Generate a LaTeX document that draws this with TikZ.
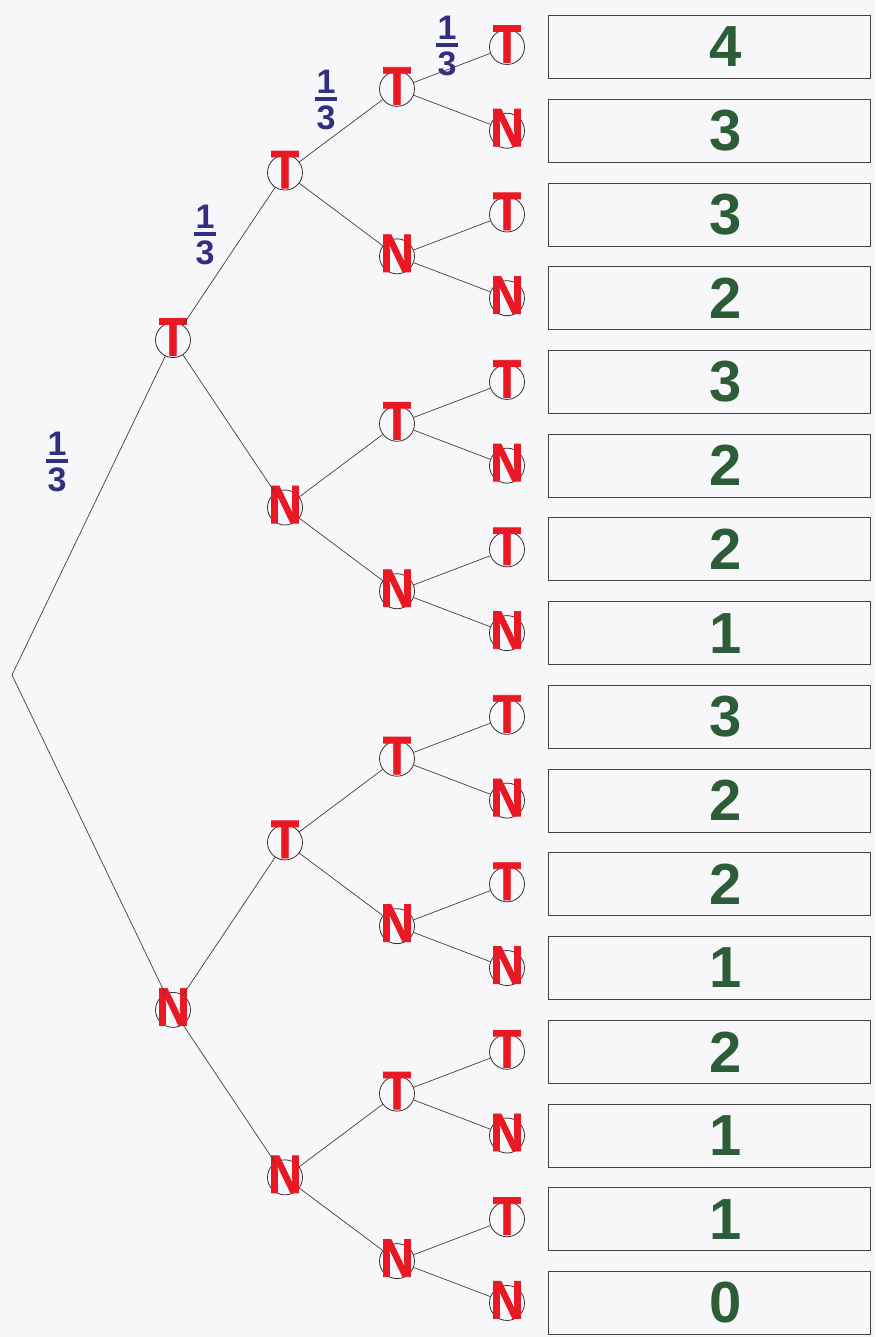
\documentclass[tikz,border=0pt]{standalone}
\usepackage{fontspec}
\setmainfont{Liberation Sans}
\newfontfamily\mkfont[FakeStretch=0.85,FakeBold=1.5]{Liberation Sans Bold}
\definecolor{paper}{RGB}{247,247,249}
\definecolor{mk}{RGB}{232,24,36}
\definecolor{fr}{RGB}{52,46,128}
\definecolor{gr}{RGB}{44,92,56}
\newcommand\third{\vbox{\hbox to 22pt{\hss 1\hss}\kern4pt\hrule height 4pt\kern5pt\hbox to 22pt{\hss 3\hss}}}
\begin{document}
\begin{tikzpicture}[x=1pt,y=-1pt,
  vert/.style={circle,draw=black!80,line width=0.8pt,minimum size=35pt,inner sep=0pt},
  lettr/.style={text=mk,font=\fontsize{54}{54}\selectfont\mkfont,inner sep=0pt,yshift=3pt},
  edge/.style={draw=black!75,line width=0.7pt},
  box/.style={draw=black!75,line width=0.8pt,minimum width=322pt,minimum height=63pt,inner sep=0pt},
  num/.style={text=gr,font=\fontsize{58}{58}\selectfont\bfseries,inner sep=0pt},
  frac/.style={text=fr,font=\fontsize{34}{34}\selectfont\bfseries,inner sep=0pt}]
\fill[paper] (0,0) rectangle (875,1337);
\useasboundingbox (0,0) rectangle (875,1337);
% root
\coordinate (r) at (12,675);
% level 1
\foreach \h/\lt in {0/T,1/N}{
  \pgfmathsetmacro\yy{47+83.73*(8*\h+3.5)}
  \node[vert,label={[lettr]center:\lt}] (a\h) at (173,\yy) {};
  \draw[edge] (r) -- (a\h);
}
% level 2
\foreach \i/\lt in {0/T,1/N,2/T,3/N}{
  \pgfmathsetmacro\yy{47+83.73*(4*\i+1.5)}
  \pgfmathtruncatemacro\p{floor(\i/2)}
  \node[vert,label={[lettr]center:\lt}] (b\i) at (285,\yy) {};
  \draw[edge] (a\p) -- (b\i);
}
% level 3
\foreach \j/\lt in {0/T,1/N,2/T,3/N,4/T,5/N,6/T,7/N}{
  \pgfmathsetmacro\yy{47+83.73*(2*\j+0.5)}
  \pgfmathtruncatemacro\p{floor(\j/2)}
  \node[vert,label={[lettr]center:\lt}] (c\j) at (397,\yy) {};
  \draw[edge] (b\p) -- (c\j);
}
% leaves, boxes, numbers
\foreach \k/\lt/\v in {0/T/4,1/N/3,2/T/3,3/N/2,4/T/3,5/N/2,6/T/2,7/N/1,8/T/3,9/N/2,10/T/2,11/N/1,12/T/2,13/N/1,14/T/1,15/N/0}{
  \pgfmathsetmacro\yy{47+83.73*\k}
  \pgfmathtruncatemacro\p{floor(\k/2)}
  \node[vert,label={[lettr]center:\lt}] (d\k) at (507,\yy) {};
  \draw[edge] (c\p) -- (d\k);
  \node[box] (bx\k) at (709,\yy) {};
  \node[num] (n\k) at (726,\yy) {\v};
}
% probabilities
\node[frac] (f1) at (57,462) {\third};
\node[frac] (f2) at (205,235) {\third};
\node[frac] (f3) at (326,100) {\third};
\node[frac] (f4) at (447,46) {\third};
\end{tikzpicture}
\end{document}
